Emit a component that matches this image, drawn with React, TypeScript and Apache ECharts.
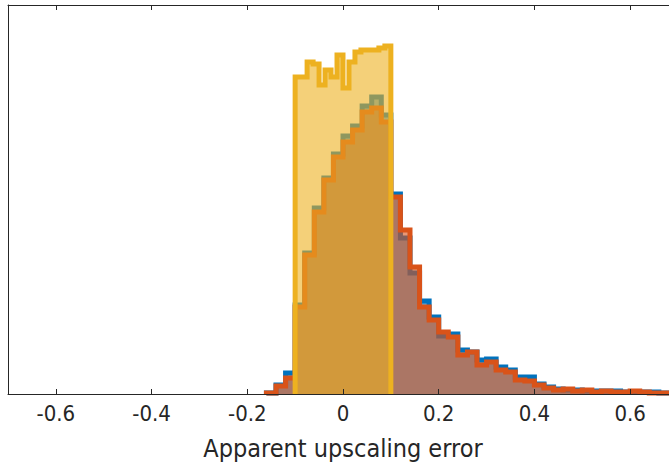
import React, { useEffect, useRef } from "react";
import * as echarts from "echarts";

// Blue / orange histograms: bin width 0.02, first bin starts at -0.16
const binStart = -0.16;
const binWidth = 0.02;
const blueCounts = [
  1, 9, 21, 89, 141, 186, 216, 240, 258, 268, 288, 297, 279, 200, 156, 121, 93, 77, 58, 60, 44, 42,
  34, 35, 27, 24, 17, 17, 10, 7, 5, 4, 4, 3, 3, 3, 3, 2, 2, 2, 2, 1, 1,
];
const orangeCounts = [
  1, 8, 16, 87, 139, 182, 214, 237, 252, 264, 282, 286, 272, 197, 164, 127, 87, 74, 62, 57, 39, 42,
  29, 32, 24, 22, 14, 13, 9, 6, 4, 5, 3, 4, 2, 3, 2, 2, 3, 2, 1, 1, 1,
];

// Yellow histogram: uniform on [-0.1, 0.1], bin width 0.0125
const yellowStart = -0.1;
const yellowWidth = 0.0125;
const yellowCounts = [317, 317, 332, 330, 309, 324, 317, 339, 306, 332, 342, 344, 344, 344, 346, 348];

const xTicks = [-0.6, -0.4, -0.2, 0, 0.2, 0.4, 0.6];
const xTitle = "Apparent upscaling error";

const BLUE = "#0072BD";
const ORANGE = "#D95319";
const YELLOW = "#EDB120";
const AXIS = "#262626";
const FONT = "'DejaVu Sans Condensed', 'DejaVu Sans', sans-serif";

function stairs(start: number, width: number, values: number[]) {
  const pts: number[][] = [[start, 0]];
  values.forEach((v, i) => pts.push([start + i * width, v]));
  const end = start + values.length * width;
  pts.push([end, values[values.length - 1]]);
  pts.push([end, 0]);
  return pts;
}

function histSeries(name: string, color: string, data: number[][], z: number) {
  return {
    name,
    type: "line",
    step: "end",
    data,
    z,
    symbol: "none",
    showSymbol: false,
    clip: true,
    lineStyle: { color, width: 5, join: "miter" },
    areaStyle: { color, opacity: 0.6, origin: "start" },
    itemStyle: { color },
  };
}

export default function App() {
  const ref = useRef<HTMLDivElement>(null);
  useEffect(() => {
    if (!ref.current) return;
    const chart = echarts.init(ref.current, undefined, { renderer: "svg" });
    chart.setOption({
      animation: false,
      backgroundColor: "#ffffff",
      grid: { left: 8, right: 0, top: 5, bottom: 72, containLabel: false },
      xAxis: [
        {
          type: "value",
          position: "bottom",
          min: -0.7,
          max: 0.7,
          name: xTitle,
          nameLocation: "middle",
          nameGap: 42,
          nameTextStyle: { fontFamily: FONT, fontSize: 25, color: AXIS },
          axisLine: { show: true, onZero: false, lineStyle: { color: AXIS, width: 1 } },
          axisTick: {
            show: true,
            inside: true,
            length: 5,
            customValues: xTicks,
            lineStyle: { color: AXIS, width: 1 },
          },
          axisLabel: {
            show: true,
            customValues: xTicks,
            margin: 8,
            fontFamily: FONT,
            fontSize: 22,
            color: AXIS,
            formatter: (v: number) => (Math.abs(v) < 1e-9 ? "0" : String(+v.toFixed(1))),
          },
          splitLine: { show: false },
          z: 10,
        },
        {
          type: "value",
          position: "top",
          min: -0.7,
          max: 0.7,
          axisLine: { show: true, onZero: false, lineStyle: { color: AXIS, width: 1 } },
          axisTick: {
            show: true,
            inside: true,
            length: 5,
            customValues: xTicks,
            lineStyle: { color: AXIS, width: 1 },
          },
          axisLabel: { show: false },
          splitLine: { show: false },
          z: 10,
        },
      ],
      yAxis: {
        type: "value",
        min: 0,
        max: 389,
        axisLine: { show: true, onZero: false, lineStyle: { color: AXIS, width: 1 } },
        axisTick: { show: false },
        axisLabel: { show: false },
        splitLine: { show: false },
        z: 10,
      },
      series: [
        histSeries("blue", BLUE, stairs(binStart, binWidth, blueCounts), 2),
        histSeries("orange", ORANGE, stairs(binStart, binWidth, orangeCounts), 3),
        histSeries("yellow", YELLOW, stairs(yellowStart, yellowWidth, yellowCounts), 4),
      ],
    });
    return () => chart.dispose();
  }, []);
  return (
    <div
      ref={ref}
      style={{ position: "fixed", left: 0, top: 0, width: 678, height: 466, background: "#fff" }}
    />
  );
}
